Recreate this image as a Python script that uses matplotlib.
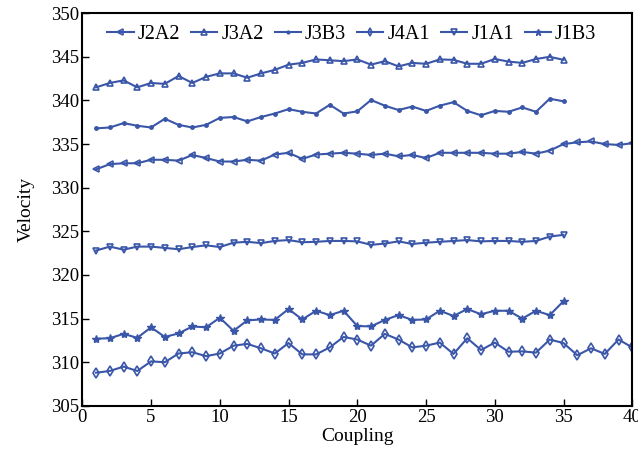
import numpy as np
import matplotlib
matplotlib.use('Agg')
import matplotlib.pyplot as plt

plt.rcParams['font.family'] = ['Liberation Serif', 'DejaVu Serif']

# data
x35 = list(range(1, 36))
x40 = list(range(1, 41))

j2a2 = [332.1, 332.7, 332.8, 332.8, 333.2, 333.2, 333.1, 333.75, 333.4, 333.0,
        333.0, 333.2, 333.1, 333.8, 334.0, 333.3, 333.8, 333.9, 334.0, 333.9,
        333.75, 333.9, 333.6, 333.75, 333.4, 334.0, 334.0, 334.0, 334.0, 333.9,
        333.9, 334.1, 333.9, 334.25, 335.0, 335.2, 335.3, 335.0, 334.9, 335.1]
j3a2 = [341.5, 342.0, 342.3, 341.5, 342.0, 341.9, 342.8, 342.0, 342.7, 343.1,
        343.1, 342.6, 343.1, 343.5, 344.1, 344.3, 344.7, 344.6, 344.5, 344.7,
        344.1, 344.5, 343.9, 344.3, 344.2, 344.7, 344.65, 344.2, 344.2, 344.75,
        344.45, 344.3, 344.75, 345.0, 344.65]
j3b3 = [336.8, 336.9, 337.4, 337.1, 336.9, 337.9, 337.2, 336.9, 337.2, 338.0,
        338.1, 337.6, 338.1, 338.5, 339.0, 338.7, 338.5, 339.5, 338.5, 338.75,
        340.05, 339.4, 338.9, 339.3, 338.8, 339.4, 339.8, 338.8, 338.3, 338.8,
        338.7, 339.2, 338.7, 340.2, 339.9]
j4a1 = [308.8, 309.0, 309.5, 309.0, 310.1, 310.0, 311.0, 311.15, 310.7, 311.0,
        311.9, 312.1, 311.6, 311.0, 312.2, 310.9, 310.9, 311.7, 312.9, 312.6,
        311.9, 313.25, 312.6, 311.7, 311.9, 312.25, 310.95, 312.75, 311.4, 312.25,
        311.2, 311.25, 311.1, 312.6, 312.2, 310.8, 311.6, 310.95, 312.6, 311.7]
j1a1 = [322.8, 323.25, 322.9, 323.25, 323.25, 323.1, 322.95, 323.2, 323.4, 323.2,
        323.7, 323.8, 323.65, 323.9, 324.0, 323.75, 323.8, 323.9, 323.9, 323.85,
        323.45, 323.6, 323.85, 323.55, 323.7, 323.8, 323.9, 324.0, 323.85, 323.9,
        323.9, 323.8, 323.9, 324.4, 324.6]
j1b3 = [312.7, 312.75, 313.25, 312.8, 314.0, 312.9, 313.3, 314.1, 314.0, 315.1,
        313.6, 314.8, 314.9, 314.85, 316.1, 314.9, 315.9, 315.4, 315.9, 314.15,
        314.1, 314.85, 315.4, 314.85, 314.9, 315.9, 315.3, 316.1, 315.5, 315.9,
        315.9, 315.0, 315.9, 315.4, 317.0]

c = '#3a56a8'
fig, ax = plt.subplots(figsize=(6.38, 4.54), dpi=100)
fig.subplots_adjust(left=0.129, right=0.991, top=0.971, bottom=0.106)

kw = dict(color=c, lw=1.5, mfc='none', mec=c, mew=1.2)
ax.plot(x40, j2a2, marker='<', ms=5, label='J2A2', **kw)
ax.plot(x35, j3a2, marker='^', ms=5, label='J3A2', **kw)
ax.plot(x35, j3b3, marker='.', ms=5, color=c, lw=1.5, label='J3B3')
ax.plot(x40, j4a1, marker='d', ms=5, label='J4A1', **kw)
ax.plot(x35, j1a1, marker='v', ms=5, label='J1A1', **kw)
ax.plot(x35, j1b3, marker='*', ms=6, color=c, lw=1.5, label='J1B3')

ax.set_xlim(0, 40)
ax.set_ylim(305, 350)
ax.set_xticks(range(0, 41, 5))
ax.set_yticks(range(305, 351, 5))
ax.tick_params(direction='in', labelsize=13.5, length=5, width=1, pad=2)
for s in ax.spines.values():
    s.set_linewidth(1.5)
ax.set_xlabel('Coupling', fontsize=14, labelpad=2)
ax.set_ylabel('Velocity', fontsize=14, labelpad=12)

ax.legend(loc='upper left', ncol=6, frameon=False, fontsize=14.5,
          handlelength=1.3, handletextpad=0.2, columnspacing=0.55,
          markerscale=0.8, bbox_to_anchor=(0.02, 1.005), borderaxespad=0.3)

fig.savefig('out.png', dpi=100)
